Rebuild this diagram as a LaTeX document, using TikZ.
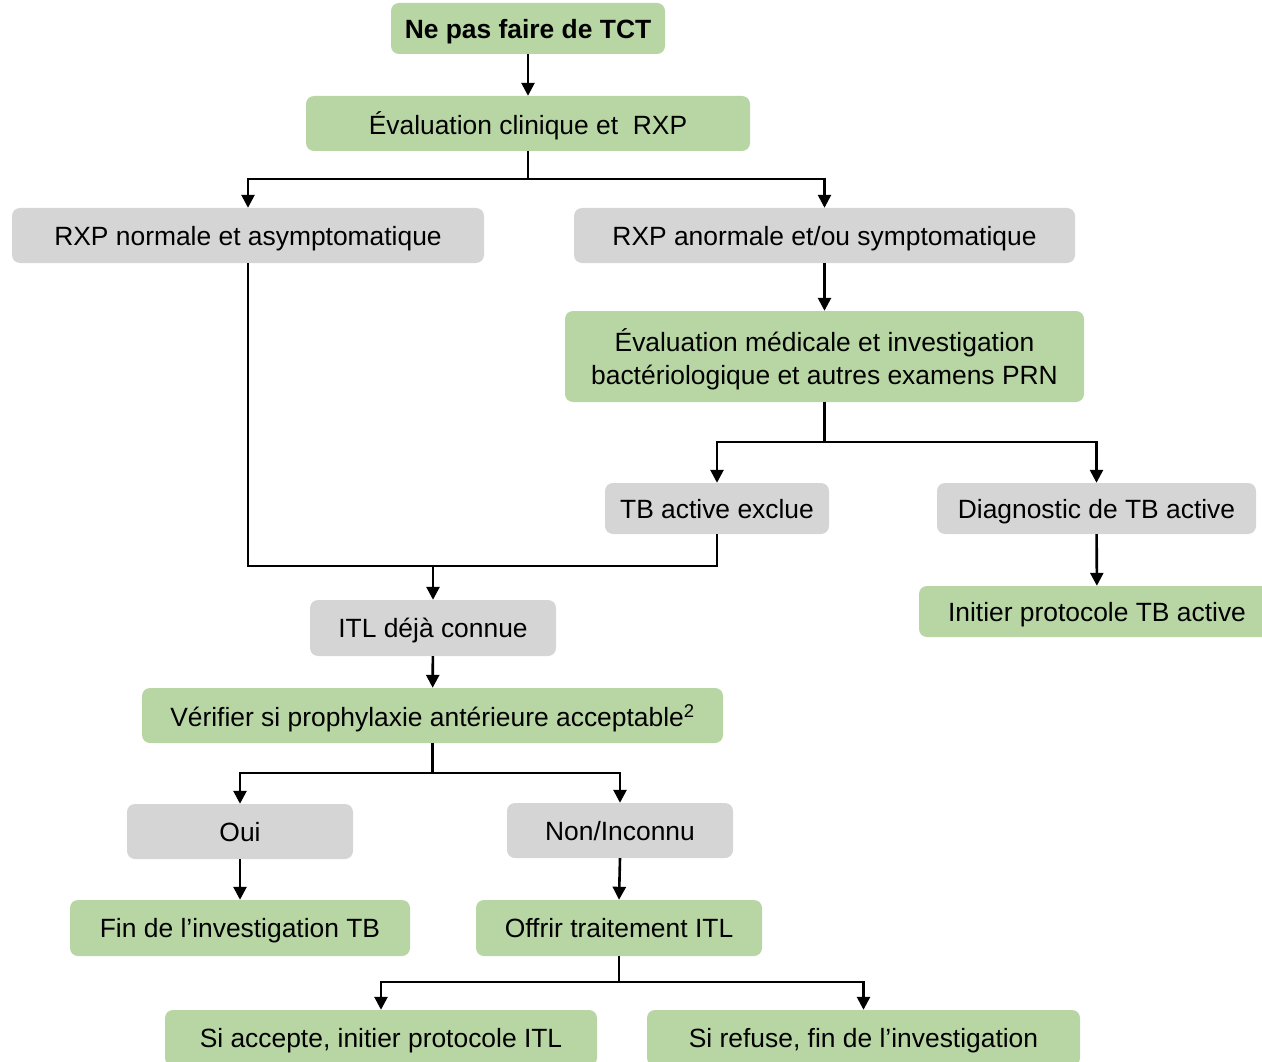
\documentclass[tikz,border=0pt]{standalone}
\usepackage{fontspec}
\setmainfont{Liberation Sans}
\usetikzlibrary{arrows.meta}
\definecolor{boxgreen}{HTML}{B8D6A4}
\definecolor{boxgray}{HTML}{D5D5D5}
\begin{document}
\begin{tikzpicture}[x=1pt,y=-1pt,
  base/.style={rectangle,rounded corners=8pt,inner sep=0pt,align=center,
    text depth=0pt,font=\fontsize{26.4}{33}\selectfont,text=black},
  gbox/.style={base,fill=boxgreen},
  qbox/.style={base,fill=boxgray},
  link/.style={line width=2.6pt,draw=black},
  arr/.style={link,-{Triangle[width=13pt,length=13pt]}}]
\useasboundingbox (0,0) rectangle (1262,1062);
\clip (0,0) rectangle (1262,1062);
% boxes
\node[gbox,minimum width=274pt,minimum height=51pt,font=\fontsize{26.4}{33}\selectfont\bfseries] (n1) at (528,28.5) {Ne pas faire de TCT};
\node[gbox,minimum width=444pt,minimum height=55pt] (n2) at (528,123.5) {Évaluation clinique et \ RXP};
\node[qbox,minimum width=472pt,minimum height=55pt] (n3) at (248,235.5) {RXP normale et asymptomatique};
\node[qbox,minimum width=501pt,minimum height=55pt] (n4) at (824.5,235.5) {RXP anormale et/ou symptomatique};
\node[gbox,minimum width=519pt,minimum height=91pt] (n5) at (824.5,356.5) {Évaluation médicale et investigation\\bactériologique et autres examens PRN};
\node[qbox,minimum width=224pt,minimum height=51pt] (n6) at (717,508.5) {TB active exclue};
\node[qbox,minimum width=319pt,minimum height=51pt] (n7) at (1096.5,508.5) {Diagnostic de TB active};
\node[gbox,minimum width=356pt,minimum height=51pt] (n8) at (1097,611.5) {Initier protocole TB active};
\node[qbox,minimum width=246pt,minimum height=56pt] (n9) at (433,628) {ITL déjà connue};
\node[gbox,minimum width=581pt,minimum height=55pt] (n10) at (432.5,715.5) {Vérifier si prophylaxie antérieure acceptable\textsuperscript{2}};
\node[qbox,minimum width=226pt,minimum height=55pt] (n11) at (240,831.5) {Oui};
\node[qbox,minimum width=226pt,minimum height=55pt] (n12) at (620,830.5) {Non/Inconnu};
\node[gbox,minimum width=340pt,minimum height=56pt] (n13) at (240,928) {Fin de l’investigation TB};
\node[gbox,minimum width=286pt,minimum height=56pt] (n14) at (619,928) {Offrir traitement ITL};
\node[gbox,minimum width=432pt,minimum height=56pt] (n15) at (381,1038) {Si accepte, initier protocole ITL};
\node[gbox,minimum width=433pt,minimum height=56pt] (n16) at (863.5,1038) {Si refuse, fin de l’investigation};
% junction points
\coordinate (j2) at (528,179);
\coordinate (j5) at (824.5,442);
\coordinate (j9) at (433,566);
\coordinate (j10) at (432.5,773);
\coordinate (j14) at (619,982);
% connectors
\draw[arr] (n1) -- (n2);
\draw[link] (n2) -- (j2);
\draw[arr] (j2) -| (n3);
\draw[arr] (j2) -| (n4);
\draw[arr] (n4) -- (n5);
\draw[link] (n5) -- (j5);
\draw[arr] (j5) -| (n6);
\draw[arr] (j5) -| (n7);
\draw[arr] (n7) -- (n8);
\draw[link] (n3.south) |- (j9);
\draw[link] (n6.south) |- (j9);
\draw[arr] (j9) -- (n9);
\draw[arr] (n9) -- (n10);
\draw[link] (n10) -- (j10);
\draw[arr] (j10) -| (n11);
\draw[arr] (j10) -| (n12);
\draw[arr] (n11) -- (n13);
\draw[arr] (n12.south) -- (n14.north);
\draw[link] (n14) -- (j14);
\draw[arr] (j14) -| (n15);
\draw[arr] (j14) -| (n16);
\end{tikzpicture}
\end{document}
